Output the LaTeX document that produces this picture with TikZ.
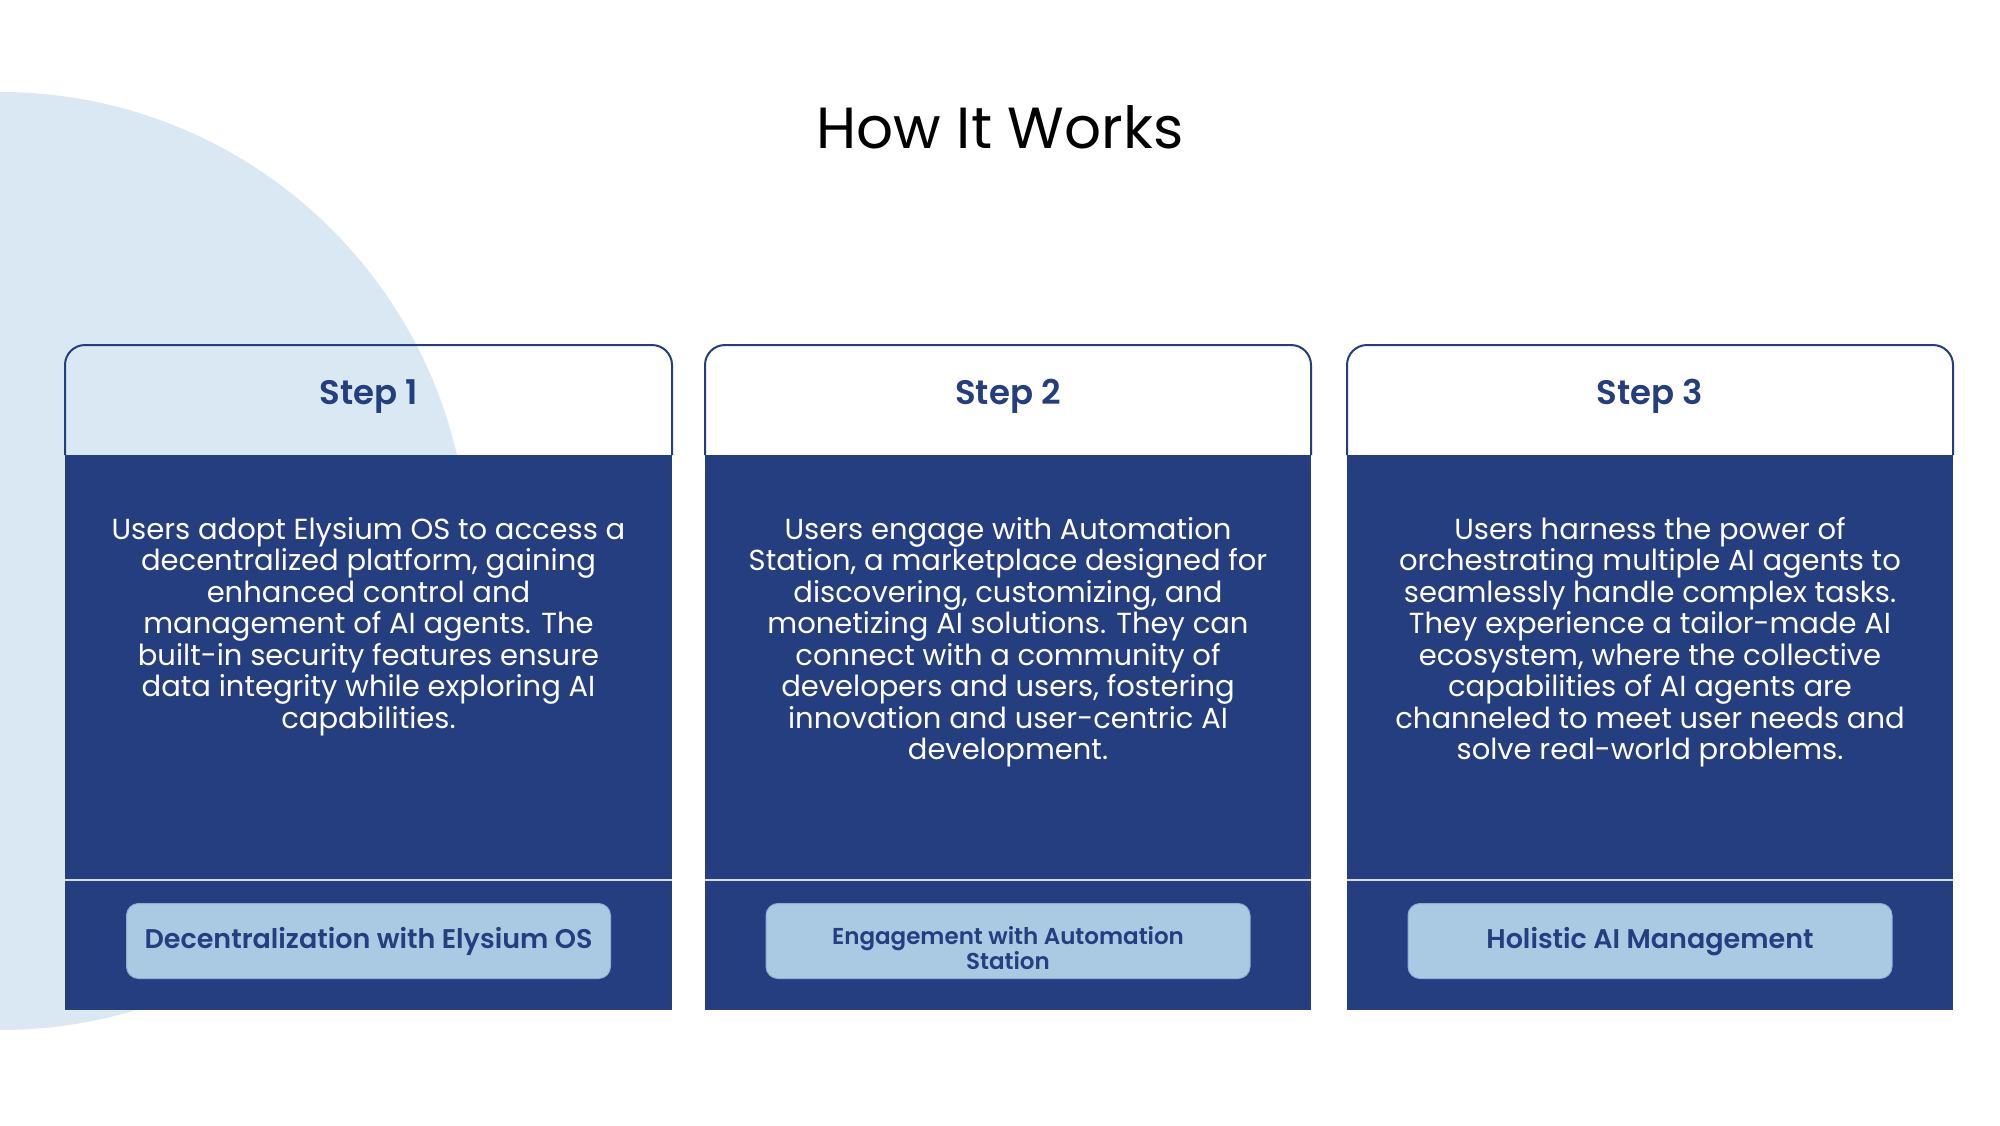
\documentclass[tikz,border=0pt]{standalone}
\usepackage{fontspec}
\setmainfont{Poppins}[BoldFont={Poppins SemiBold}]
\definecolor{navy}{HTML}{243E7F}
\definecolor{circ}{HTML}{DAE8F4}
\definecolor{btn}{HTML}{AACAE4}
\definecolor{btnedge}{HTML}{8EAED6}
\definecolor{divline}{HTML}{D4DDEC}
\tikzset{
  titletext/.style={font=\fontsize{58}{70}\selectfont, text=black, inner sep=0pt, anchor=base},
  steptext/.style={font=\bfseries\fontsize{34}{40}\selectfont, text=navy, inner sep=0pt, anchor=base},
  bodytext/.style={font=\fontsize{29}{31.5}\selectfont, text=white, align=center, inner sep=0pt, anchor=north},
  btnbox/.style={fill=btn, draw=btnedge, line width=1pt, rounded corners=12pt, minimum width=484pt, minimum height=75pt, inner sep=0pt},
  btntext/.style={font=\bfseries\fontsize{27}{30}\selectfont, text=navy, align=center, inner sep=0pt},
  btntextsmall/.style={font=\bfseries\fontsize{23}{24}\selectfont, text=navy, align=center, inner sep=0pt},
  headline/.style={draw=navy, line width=2pt, rounded corners=20pt},
  bodyfill/.style={fill=navy},
  divider/.style={draw=divline, line width=1.5pt}
}
\begin{document}
\begin{tikzpicture}[x=1pt,y=-1pt]
\useasboundingbox (0,0) rectangle (2000,1125);
\fill[white] (0,0) rectangle (2000,1125);
\begin{scope}
  \clip (0,0) rectangle (2000,1125);
  \fill[circ] (0,561) circle[radius=469];
\end{scope}
\node[titletext] (title) at (1000,148) {How It Works};
% cards
\foreach \xa/\xb in {65/672, 705/1311, 1347/1953}{
  \fill[bodyfill] (\xa,455) rectangle (\xb,1010);
  \draw[headline] (\xa,455) -- (\xa,345) -- (\xb,345) -- (\xb,455);
  \draw[divider] (\xa,880) -- (\xb,880);
}
% headings
\node[steptext] (s1) at (369,404) {Step 1};
\node[steptext] (s2) at (1008,404) {Step 2};
\node[steptext] (s3) at (1650,404) {Step 3};
% body texts
\node[bodytext] (b1) at (368.5,517) {Users adopt Elysium OS to access a\\decentralized platform, gaining\\enhanced control and\\management of AI agents. The\\built-in security features ensure\\data integrity while exploring AI\\capabilities.};
\node[bodytext] (b2) at (1008,517) {Users engage with Automation\\Station, a marketplace designed for\\discovering, customizing, and\\monetizing AI solutions. They can\\connect with a community of\\developers and users, fostering\\innovation and user-centric AI\\development.};
\node[bodytext] (b3) at (1650,517) {Users harness the power of\\orchestrating multiple AI agents to\\seamlessly handle complex tasks.\\They experience a tailor-made AI\\ecosystem, where the collective\\capabilities of AI agents are\\channeled to meet user needs and\\solve real-world problems.};
% buttons
\node[btnbox] (k1) at (368.5,941) {};
\node[btnbox] (k2) at (1008,941) {};
\node[btnbox] (k3) at (1650,941) {};
\node[btntext] (t1) at (k1.center) {Decentralization with Elysium OS};
\node[btntextsmall] (t2) at ([yshift=-7pt]k2.center) {Engagement with Automation\\Station};
\node[btntext] (t3) at ([yshift=-1pt]k3.center) {Holistic AI Management};
\end{tikzpicture}
\end{document}
